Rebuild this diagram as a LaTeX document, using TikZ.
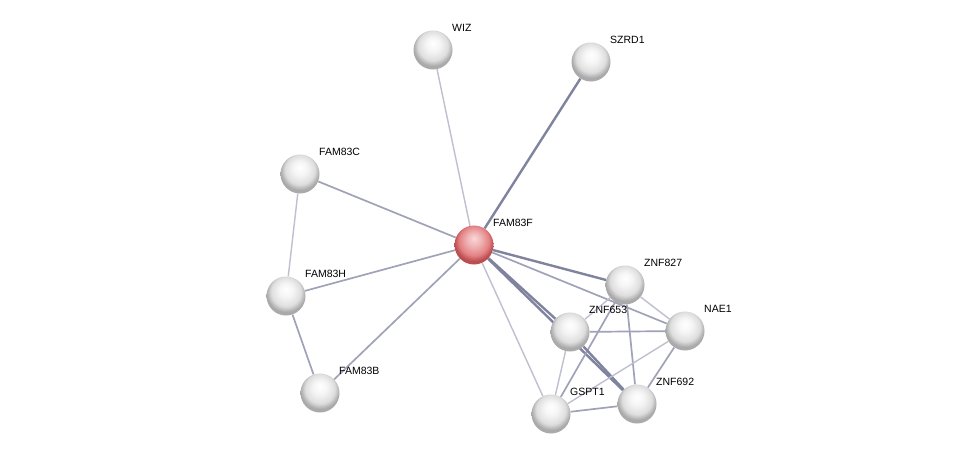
\documentclass[tikz,border=0pt]{standalone}
\usepackage{fontspec}
\setmainfont{Liberation Sans}
\usepackage{tikz}
\usetikzlibrary{positioning, calc, shadings}
\definecolor{ballrim}{RGB}{170, 170, 170}
\definecolor{ballmid}{RGB}{222, 222, 222}
\definecolor{redrim}{RGB}{188, 78, 80}
\definecolor{redmid}{RGB}{228, 130, 132}
\definecolor{redtop}{RGB}{250, 215, 215}
\definecolor{edgelight}{RGB}{190, 191, 208}
\definecolor{edgemid}{RGB}{160, 162, 184}
\definecolor{edgedark}{RGB}{128, 131, 158}
\pgfdeclareradialshading{pearl}{\pgfpoint{0bp}{9bp}}{color(0bp)=(white); color(9bp)=(white!96!black); color(19bp)=(ballmid); color(25bp)=(ballrim); color(50bp)=(ballrim)}
\pgfdeclareradialshading{ruby}{\pgfpoint{0bp}{9bp}}{color(0bp)=(redtop); color(9bp)=(redmid!60!white); color(19bp)=(redmid); color(25bp)=(redrim); color(50bp)=(redrim)}
\pgfdeclarelayer{bg}
\pgfsetlayers{bg,main}

\tikzset{
  prot/.style={circle, minimum size=39pt, inner sep=0pt, shading=pearl},
  seed/.style={prot, shading=ruby},
  plabel/.style={font=\fontsize{10.5}{12}\selectfont, anchor=west, inner sep=1pt},
  elight/.style={draw=edgelight, line width=1.4pt},
  emid/.style={draw=edgemid, line width=1.7pt},
  edark/.style={draw=edgedark, line width=2.4pt}
}

\begin{document}
\begin{tikzpicture}[x=1pt, y=-1pt]
\useasboundingbox (0,0) rectangle (976,459);
% proteins
\node[prot] (wiz) at (433,50) {};
\node[prot] (szrd) at (591,62) {};
\node[prot] (famc) at (300,174) {};
\node[seed] (famf) at (474,245) {};
\node[prot] (z827) at (625,285) {};
\node[prot] (famh) at (286,296) {};
\node[prot] (z653) at (570,332) {};
\node[prot] (nae) at (685,331) {};
\node[prot] (famb) at (320,393) {};
\node[prot] (gspt) at (551,414) {};
\node[prot] (z692) at (637,404) {};
% labels
\node[plabel] at ($(wiz)+(18,-22)$) {WIZ};
\node[plabel] at ($(szrd)+(18,-22)$) {SZRD1};
\node[plabel] at ($(famc)+(18,-22)$) {FAM83C};
\node[plabel] at ($(famf)+(18,-22)$) {FAM83F};
\node[plabel] at ($(z827)+(18,-22)$) {ZNF827};
\node[plabel] at ($(famh)+(18,-22)$) {FAM83H};
\node[plabel] at ($(z653)+(18,-22)$) {ZNF653};
\node[plabel] at ($(nae)+(18,-22)$) {NAE1};
\node[plabel] at ($(famb)+(18,-22)$) {FAM83B};
\node[plabel] at ($(gspt)+(18,-22)$) {GSPT1};
\node[plabel] at ($(z692)+(18,-22)$) {ZNF692};
% edges
\begin{pgfonlayer}{bg}
\draw[elight] (famf) -- (wiz);
\draw[edark] (famf) -- (szrd);
\draw[emid] (famf) -- (famc);
\draw[emid] (famf) -- (famh);
\draw[emid] (famf) -- (famb);
\draw[edark] (famf) -- (z827);
\draw[emid] (famf) -- (nae);
\draw[edark] (famf) -- (z653);
\draw[edark] (famf) -- (z692);
\draw[elight] (famf) -- (gspt);
\draw[elight] (famc) -- (famh);
\draw[emid] (famh) -- (famb);
\draw[elight] (z827) -- (z653);
\draw[elight] (z827) -- (nae);
\draw[emid] (z827) -- (z692);
\draw[emid] (z827) -- (gspt);
\draw[emid] (z653) -- (nae);
\draw[elight] (z653) -- (gspt);
\draw[edark] (z653) -- (z692);
\draw[elight] (gspt) -- (nae);
\draw[emid] (gspt) -- (z692);
\draw[emid] (nae) -- (z692);
\end{pgfonlayer}
\end{tikzpicture}
\end{document}
